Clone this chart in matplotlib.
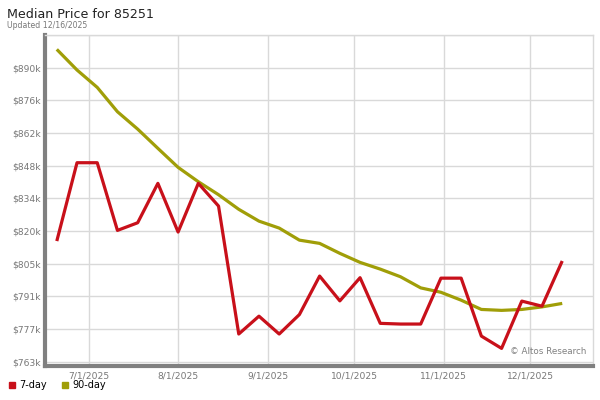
import pandas as pd
import matplotlib
matplotlib.use("Agg")
import matplotlib.pyplot as plt
import matplotlib.dates as mdates
from matplotlib.lines import Line2D

# weekly dates, 6/20/2025 .. 12/12/2025
dates = pd.date_range("2025-06-20", periods=26, freq="7D")

# median price in $k
day7 = [815.5, 849.3, 849.3, 820.1, 823.4, 840.4, 819.4, 840.4, 830.6, 775.4,
        783.1, 775.4, 783.8, 800.4, 789.7, 799.7, 780.0, 779.7, 779.7, 799.5,
        799.5, 774.5, 769.2, 789.6, 787.4, 806.9]
day90 = [898.2, 889.3, 881.8, 871.3, 863.8, 855.5, 847.3, 841.1, 835.5, 829.2,
         824.1, 821.1, 815.9, 814.5, 810.2, 806.3, 803.4, 800.1, 795.3, 793.4,
         790.0, 786.0, 785.6, 786.0, 787.1, 788.6]

ytick_vals = [763.4 + 14.1 * k for k in range(11)]
ytick_labels = ["$763k", "$777k", "$791k", "$805k", "$820k", "$834k",
                "$848k", "$862k", "$876k", "$890k", ""]
xtick_dates = pd.to_datetime(["2025-07-01", "2025-08-01", "2025-09-01",
                              "2025-10-01", "2025-11-01", "2025-12-01"])
xtick_labels = ["7/1/2025", "8/1/2025", "9/1/2025", "10/1/2025", "11/1/2025", "12/1/2025"]

red = "#c8101a"
olive = "#a09e08"
grid = "#d9d9d9"
txt = "#777777"

fig = plt.figure(figsize=(6, 4), dpi=100)
ax = fig.add_axes([0.075, 0.085, 0.913, 0.8275])

ax.plot(dates, day90, color=olive, lw=2.3, solid_capstyle="butt", zorder=3)
ax.plot(dates, day7, color=red, lw=2.3, solid_capstyle="butt", zorder=4)

ax.set_xlim(mdates.date2num(pd.Timestamp("2025-06-15 22:00")),
            mdates.date2num(pd.Timestamp("2025-12-22 14:00")))
ax.set_ylim(761.6, 904.4)

ax.set_yticks(ytick_vals)
ax.set_yticklabels(ytick_labels)
ax.set_xticks(mdates.date2num(xtick_dates))
ax.set_xticklabels(xtick_labels)
ax.tick_params(length=0, labelsize=6.6, colors=txt, pad=3)
ax.tick_params(axis="x", pad=4)

ax.grid(True, color=grid, lw=1)
ax.set_axisbelow(True)
for s in ["top", "right"]:
    ax.spines[s].set_color(grid)
    ax.spines[s].set_linewidth(1)
ax.spines["left"].set_color("#808080")
ax.spines["left"].set_linewidth(3)
ax.spines["bottom"].set_color("#808080")
ax.spines["bottom"].set_linewidth(3)

ax.text(0.988, 0.03, "\u00a9 Altos Research", transform=ax.transAxes,
        ha="right", va="bottom", fontsize=6.3, color="#808080")

fig.text(0.012, 0.965, "Median Price for 85251", fontsize=9.1, color="#222222",
         ha="left", va="center")
fig.text(0.012, 0.937, "Updated 12/16/2025", fontsize=5.6, color="#777777",
         ha="left", va="center")

handles = [Line2D([], [], marker="s", ls="", color=red, markersize=5),
           Line2D([], [], marker="s", ls="", color=olive, markersize=5)]
fig.legend(handles, ["7-day", "90-day"], loc="lower left", bbox_to_anchor=(0.0, 0.008),
           ncol=2, frameon=False, fontsize=7, handletextpad=0.3,
           columnspacing=1.3, handlelength=1.0, borderaxespad=0.3)

fig.savefig("out.png", dpi=100)
